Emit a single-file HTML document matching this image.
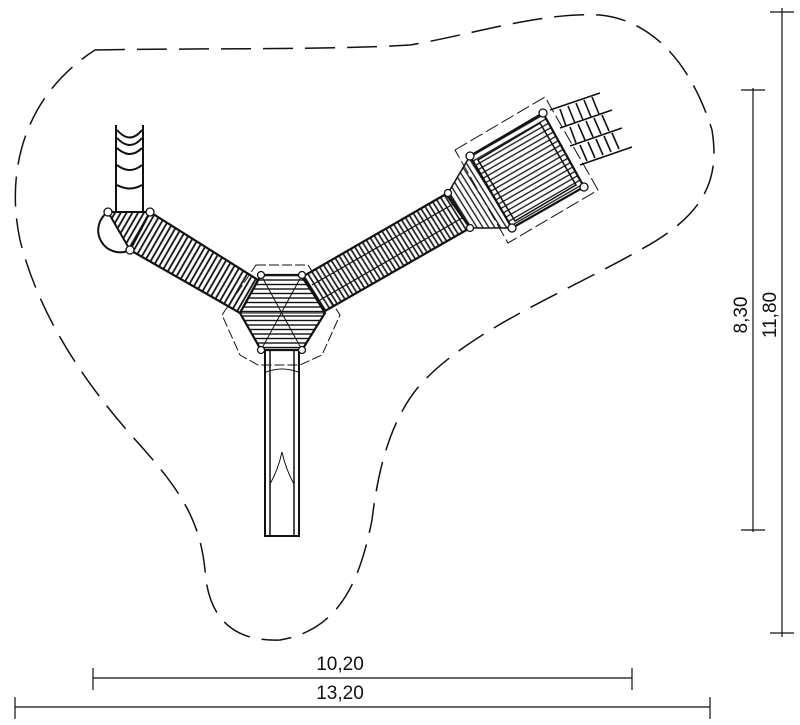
<!DOCTYPE html>
<html><head><meta charset="utf-8"><style>body{margin:0;background:#fff}svg{display:block}</style></head>
<body>
<svg width="800" height="725" viewBox="0 0 800 725" xmlns="http://www.w3.org/2000/svg" font-family="Liberation Sans, sans-serif">
<defs>
<pattern id="hh" width="6" height="4.5" patternUnits="userSpaceOnUse"><line x1="0" y1="1" x2="6" y2="1" stroke="#111" stroke-width="1.4"/></pattern>
<pattern id="lb" width="6" height="5" patternUnits="userSpaceOnUse" patternTransform="rotate(-60)"><line x1="0" y1="1" x2="6" y2="1" stroke="#111" stroke-width="1.8"/></pattern>
<pattern id="rb" width="5" height="4.5" patternUnits="userSpaceOnUse" patternTransform="rotate(58)"><line x1="0" y1="1" x2="5" y2="1" stroke="#111" stroke-width="1.6"/></pattern>
<pattern id="sq" width="6" height="5" patternUnits="userSpaceOnUse" patternTransform="rotate(-30)"><line x1="0" y1="1" x2="6" y2="1" stroke="#111" stroke-width="1.3"/></pattern>
<pattern id="tr" width="5" height="5" patternUnits="userSpaceOnUse" patternTransform="rotate(58)"><line x1="0" y1="1" x2="5" y2="1" stroke="#111" stroke-width="1.3"/></pattern>
</defs>
<g fill="none" stroke="#111" stroke-width="1.5">
<path d="M95,50 C200,48 330,50 410,45 C470,35 540,12 600,15 C650,20 690,60 712,130 C720,180 705,215 640,250 C560,295 470,330 420,385 C390,420 378,470 372,520 C360,580 340,630 280,640 C230,642 208,615 205,570 C200,520 180,490 140,445 C90,390 40,320 20,240 C5,170 25,95 95,50 Z" stroke-dasharray="30,12"/>
<g stroke-width="1.2">
<line x1="93" y1="678" x2="632" y2="678"/><line x1="93" y1="668" x2="93" y2="690"/><line x1="632" y1="668" x2="632" y2="690"/>
<line x1="15" y1="707" x2="710" y2="707"/><line x1="15" y1="697" x2="15" y2="719"/><line x1="710" y1="697" x2="710" y2="719"/>
<line x1="753" y1="88" x2="753" y2="532"/><line x1="741" y1="90" x2="765" y2="90"/><line x1="741" y1="530" x2="765" y2="530"/>
<line x1="782" y1="8" x2="782" y2="637"/><line x1="770" y1="12" x2="794" y2="12"/><line x1="770" y1="633" x2="794" y2="633"/>
</g>
<rect x="265" y="350" width="34" height="186" fill="#fff" stroke-width="2"/>
<line x1="270" y1="350" x2="270" y2="536"/><line x1="294" y1="350" x2="294" y2="536"/>
<path d="M266,372 Q282,366 298,372" stroke-width="1"/>
<path d="M270,484 Q278,470 282,452 Q286,470 294,484 M270,484 L270,510 M294,484 L294,510" stroke-width="1"/>
<path d="M256,265 L308,265 L340,315 L322,355 L300,365 L258,365 L240,355 L222,315 Z" stroke-width="1" stroke-dasharray="10,3"/>
<line x1="116" y1="125" x2="116" y2="212" stroke-width="2"/><line x1="143" y1="125" x2="143" y2="212" stroke-width="2"/>
<path d="M117,130 Q130,145 142,130 M117,138 Q130,152 142,138 M117,148 Q130,160 142,148 M117,165 Q130,175 142,165 M117,185 Q130,192 142,185" stroke-width="2"/>
<path d="M108,212 A22,22 0 0 0 130,250" stroke-width="2"/>
<polygon points="108,212 150,212 130,250" fill="url(#lb)" stroke-width="2"/>
<polygon points="150,212 258,280 240,313 130,250" fill="url(#lb)" stroke-width="2.2"/>
<polygon points="261,275 302,275 325,313 302,350 261,350 240,313" fill="url(#hh)" stroke-width="2.2"/>
<line x1="261" y1="275" x2="302" y2="350" stroke-width="1"/><line x1="302" y1="275" x2="261" y2="350" stroke-width="1"/><line x1="240" y1="313" x2="325" y2="313" stroke-width="1"/>
<polygon points="302,277 446,194 470,228 325,311" fill="url(#rb)" stroke-width="2.2"/>
<line x1="312" y1="285" x2="455" y2="203" stroke-width="1.2"/><line x1="320" y1="300" x2="462" y2="218" stroke-width="1.2"/>
<polygon points="455,150 545,97 598,190 508,243" stroke-width="1" stroke-dasharray="14,4"/>
<polygon points="470,156 448,193 470,228 512,228" fill="url(#tr)" stroke-width="1.5"/>
<polygon points="470,156 543,113 584,187 512,228" fill="url(#sq)" stroke-width="2.2"/>
<polygon points="478,160 540,123 576,185 515,221" stroke-width="1.5"/>
<g stroke-width="1.6">
<line x1="550" y1="110" x2="600" y2="93"/><line x1="560" y1="128" x2="612" y2="110"/><line x1="570" y1="146" x2="622" y2="128"/><line x1="580" y1="165" x2="632" y2="147"/>
<path d="M560,109 L566,126 M568,106 L575,123 M576,103 L583,120 M584,100 L591,117 M592,97 L599,114 M570,127 L576,143 M578,124 L585,140 M586,121 L593,137 M594,118 L601,134 M602,115 L609,131 M580,145 L587,161 M588,142 L595,158 M596,139 L603,155 M604,136 L611,152 M612,133 L619,149"/>
</g>
<g fill="#fff" stroke-width="1.3">
<circle cx="108" cy="212" r="4"/><circle cx="150" cy="212" r="4"/><circle cx="130" cy="250" r="4"/>
<circle cx="261" cy="275" r="3.5"/><circle cx="302" cy="275" r="3.5"/><circle cx="261" cy="350" r="3.5"/><circle cx="302" cy="350" r="3.5"/>
<circle cx="470" cy="156" r="4"/><circle cx="543" cy="113" r="4"/><circle cx="584" cy="187" r="4"/><circle cx="512" cy="228" r="4"/><circle cx="448" cy="193" r="3.5"/><circle cx="470" cy="228" r="3.5"/>
</g>
</g>
<g fill="#111" font-size="19">
<text x="340" y="670" text-anchor="middle">10,20</text>
<text x="340" y="699" text-anchor="middle">13,20</text>
<text transform="translate(747,315) rotate(-90)" text-anchor="middle">8,30</text>
<text transform="translate(776,315) rotate(-90)" text-anchor="middle">11,80</text>
</g>
</svg>
</body></html>
